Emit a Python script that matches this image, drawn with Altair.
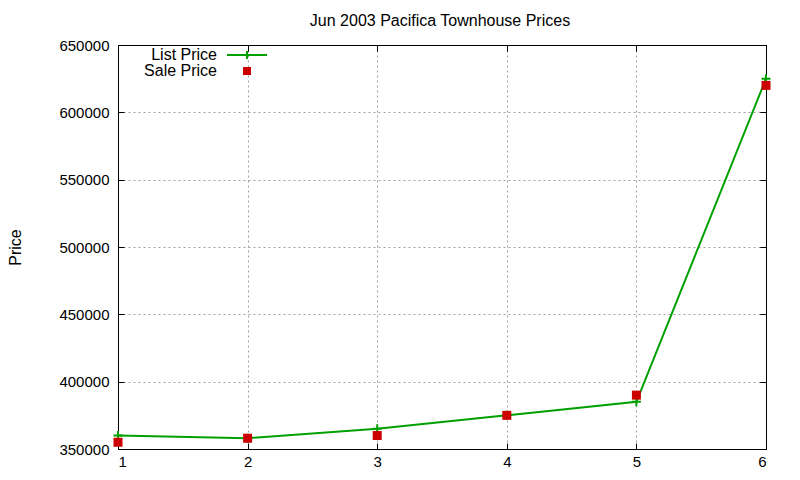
import altair as alt
import pandas as pd

x_vals = [1, 2, 3, 4, 5, 6]
list_price = [360000, 358000, 365000, 375000, 385000, 625000]
sale_price = [355000, 358000, 360000, 375000, 390000, 620000]
series_names = ["List Price", "Sale Price"]
series_colors = ["#00a000", "#cc0000"]
y_ticks = [350000, 400000, 450000, 500000, 550000, 600000, 650000]

rows = []
for xv, lp, sp in zip(x_vals, list_price, sale_price):
    rows.append({"x": xv, "price": lp, "series": "List Price"})
    rows.append({"x": xv, "price": sp, "series": "Sale Price"})
df = pd.DataFrame(rows)

FONT = "Liberation Sans"
INWARD = {"expr": "-6"}

axis_style = dict(
    grid=True, ticks=True, tickSize=INWARD, tickColor="black", labelFont=FONT, labelFontSize=15,
    labelColor="black", domainColor="black", gridColor="#a0a0a0", gridDash=[2, 3], gridOpacity=1,
    gridWidth=1, format="d",
)
mirror_style = dict(
    grid=False, ticks=True, tickSize=INWARD, tickColor="black", labels=False, title=None,
    domainColor="black",
)

xs = alt.Scale(domain=[1, 6], nice=False)
ys = alt.Scale(domain=[350000, 650000], nice=False, zero=False)

xenc = alt.X("x:Q", scale=xs, axis=alt.Axis(values=x_vals, title=None, labelPadding=11, **axis_style))
yenc = alt.Y("price:Q", scale=ys, axis=alt.Axis(values=y_ticks, title="Price", labelPadding=15,
                                              titlePadding=35, titleFontWeight="normal",
                                              titleFontSize=16, titleFont=FONT, titleColor="black",
                                              **axis_style))
xenc_top = alt.X("x:Q", scale=xs, axis=alt.Axis(values=x_vals, orient="top", **mirror_style))
yenc_right = alt.Y("price:Q", scale=ys, axis=alt.Axis(values=y_ticks, orient="right", **mirror_style))

# legend glyphs (filled outlines): long line with a plus, and a small square
LIST_GLYPH = "M-2.5,-0.125H2.5V0.125H-2.5Z M-0.125,-0.5H0.125V0.5H-0.125Z"
SQUARE_GLYPH = "M-0.5,-0.5H0.5V0.5H-0.5Z"

legend = alt.Legend(
    orient="none", legendX=121, legendY=2, direction="vertical", title=None,
    labelAlign="right", labelOffset={"expr": "-38"}, labelFontSize=16, labelFont=FONT,
    labelColor="black", symbolSize=256, symbolOpacity=1, symbolStrokeWidth=0,
    rowPadding=0, padding=0,
)

base = alt.Chart(df)

line = base.transform_filter("datum.series === 'List Price'").mark_line(
    strokeWidth=2, color="#00a000"
).encode(x=xenc, y=yenc)

plus = base.transform_filter("datum.series === 'List Price'").mark_point(
    shape="M-1,0H1M0,-1V1", size=81, filled=False, strokeWidth=2, color="#00a000", opacity=1
).encode(x=xenc_top, y=yenc_right)

squares = base.transform_filter("datum.series === 'Sale Price'").mark_point(
    size=324, filled=True, opacity=1, strokeWidth=0
).encode(
    x=xenc_top, y=yenc_right,
    color=alt.Color("series:N", scale=alt.Scale(domain=series_names, range=series_colors), legend=legend),
    shape=alt.Shape("series:N", scale=alt.Scale(domain=series_names, range=[LIST_GLYPH, SQUARE_GLYPH]), legend=legend),
)

chart = alt.layer(line, plus, squares).resolve_axis(x="independent", y="independent").properties(
    width=648, height=404,
    background="white",
    title=alt.TitleParams("Jun 2003 Pacifica Townhouse Prices", fontSize=16, fontWeight="normal",
                          font=FONT, anchor="middle", offset=9, color="black", dx=-2),
    autosize=alt.AutoSizeParams(type="none"),
    padding={"left": 110, "top": 37, "right": 26, "bottom": 23},
).configure_view(stroke="black", strokeWidth=1)

chart.save("out.html", embed_options={"renderer": "svg", "actions": False})
